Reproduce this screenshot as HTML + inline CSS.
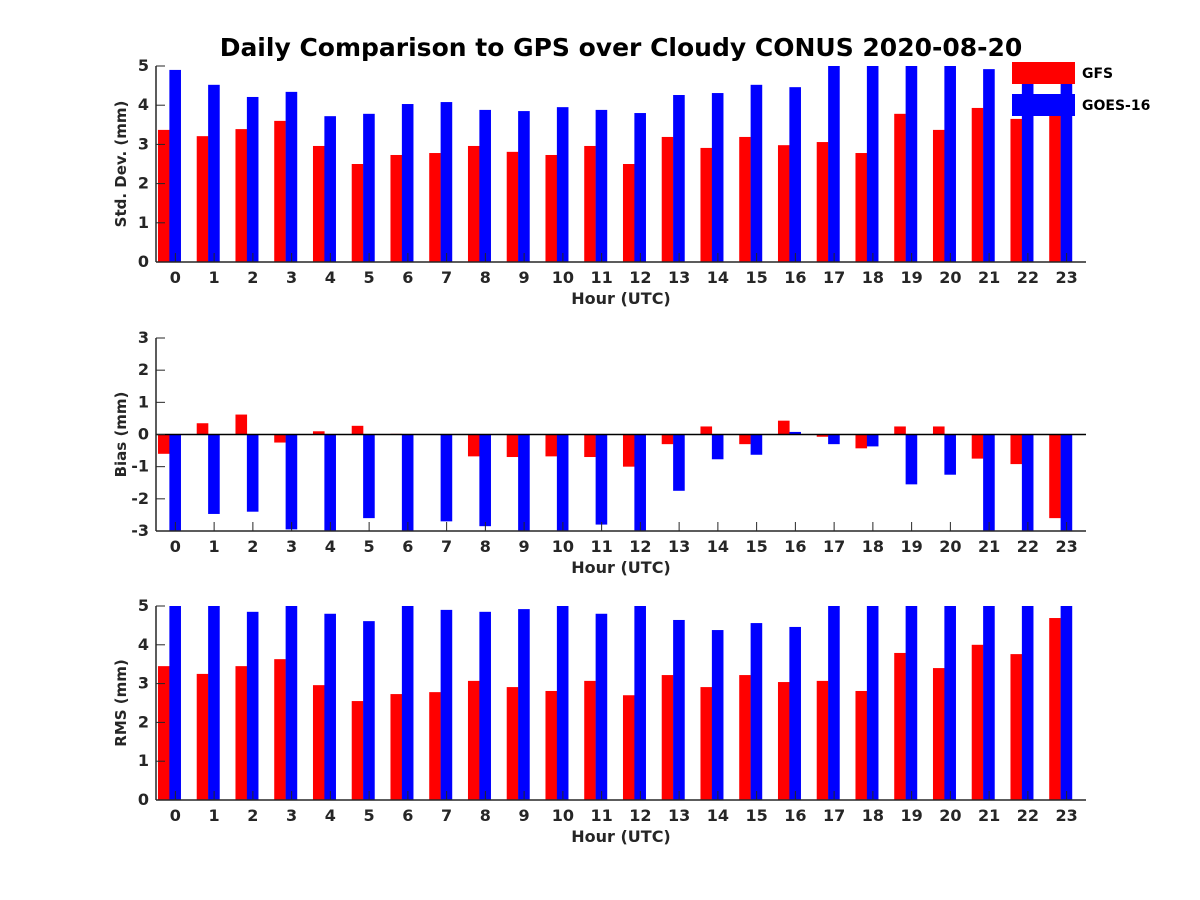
<!DOCTYPE html>
<html><head><meta charset="utf-8">
<style>
html,body{margin:0;padding:0;background:#fff;}
svg{display:block;font-family:"DejaVu Sans","Liberation Sans",sans-serif;font-weight:bold;}
</style></head>
<body>
<svg id="chart" width="1200" height="900" xmlns="http://www.w3.org/2000/svg">
<text x="621" y="56" text-anchor="middle" font-size="25" fill="#000">Daily Comparison to GPS over Cloudy CONUS 2020-08-20</text>
</svg>
<script>
const hours = [0,1,2,3,4,5,6,7,8,9,10,11,12,13,14,15,16,17,18,19,20,21,22,23];
const stdGFS = [3.37,3.21,3.39,3.6,2.96,2.5,2.73,2.78,2.96,2.81,2.73,2.96,2.5,3.19,2.91,3.19,2.98,3.06,2.78,3.78,3.37,3.93,3.65,3.8];
const stdGOES = [4.9,4.52,4.21,4.34,3.72,3.78,4.03,4.08,3.88,3.85,3.95,3.88,3.8,4.26,4.31,4.52,4.46,5.3,5.3,5.3,5.3,4.92,5.0,4.7];
const biasGFS = [-0.6,0.35,0.62,-0.25,0.1,0.27,0.02,0.0,-0.68,-0.7,-0.68,-0.7,-1.0,-0.3,0.25,-0.3,0.43,-0.07,-0.43,0.25,0.25,-0.75,-0.92,-2.6];
const biasGOES = [-3.5,-2.47,-2.4,-2.95,-3.5,-2.6,-3.5,-2.7,-2.85,-3.5,-3.5,-2.8,-3.5,-1.75,-0.77,-0.63,0.08,-0.3,-0.37,-1.55,-1.25,-3.5,-3.5,-3.5];
const rmsGFS = [3.45,3.25,3.45,3.63,2.96,2.55,2.73,2.78,3.07,2.91,2.81,3.07,2.7,3.22,2.91,3.22,3.04,3.07,2.81,3.79,3.4,4.0,3.76,4.69];
const rmsGOES = [5.3,5.3,4.85,5.3,4.8,4.61,5.3,4.9,4.85,4.92,5.3,4.8,5.3,4.64,4.38,4.56,4.46,5.3,5.3,5.3,5.3,5.3,5.3,5.3];
const stdTicks = [0,1,2,3,4,5];
const biasTicks = [-3,-2,-1,0,1,2,3];
const rmsTicks = [0,1,2,3,4,5];

const NS="http://www.w3.org/2000/svg";
const svg=document.getElementById('chart');
function mk(tag,attrs,parent){const e=document.createElementNS(NS,tag);for(const k in attrs)e.setAttribute(k,attrs[k]);(parent||svg).appendChild(e);return e;}
const X0=156,X1=1086;
function xs(h){return X0+(h+0.5)*(X1-X0)/24;}

function panel(name,top,bot,ymin,ymax,ticks,gfs,goes,ylabel,zeroLine){
  const g=mk('g',{});
  
  
  const ys=v=>bot-(v-ymin)*(bot-top)/(ymax-ymin);
  const cid='clip-'+name;
  const cp=mk('clipPath',{id:cid},g);mk('rect',{x:X0,y:top,width:X1-X0,height:bot-top},cp);
  const bars=mk('g',{'clip-path':'url(#'+cid+')'},g);
  const base=ys(Math.max(ymin,0));
  hours.forEach((h,i)=>{
    const c=xs(h);
    [[gfs[i],'#ff0000',-17.4,'gfs'],[goes[i],'#0000ff',-6,'goes16']].forEach(([v,col,off,s])=>{
      const y=ys(v);
      const r=mk('rect',{x:c+off,y:Math.min(y,base),width:11.6,height:Math.abs(y-base),fill:col},bars);
      
      
    });
  });
  if(zeroLine){mk('line',{x1:X0,x2:X1,y1:ys(0),y2:ys(0),stroke:'#000','stroke-width':1.5},g);}
  mk('line',{x1:X0,x2:X0,y1:top,y2:bot,stroke:'#262626','stroke-width':1.5},g);
  mk('line',{x1:X0,x2:X1,y1:bot,y2:bot,stroke:'#262626','stroke-width':1.5},g);
  ticks.forEach(t=>{
    const y=ys(t);
    mk('line',{x1:X0,x2:X0+9,y1:y,y2:y,stroke:'#262626','stroke-width':1},g);
    const tx=mk('text',{x:X0-7,y:y+5,'text-anchor':'end','font-size':16,fill:'#262626'},g);
    tx.textContent=t;
    
    
  });
  hours.forEach(h=>{
    const x=xs(h);
    mk('line',{x1:x,x2:x,y1:bot,y2:bot-9,stroke:'#262626','stroke-width':1},g);
    const tx=mk('text',{x:x,y:bot+21,'text-anchor':'middle','font-size':16,fill:'#262626'},g);
    tx.textContent=h;
    
    
  });
  const xl=mk('text',{x:(X0+X1)/2,y:bot+42,'text-anchor':'middle','font-size':16,fill:'#262626'},g);
  xl.textContent='Hour (UTC)';
  
  
  const cy=(top+bot)/2;
  const yl=mk('text',{x:0,y:0,transform:'translate('+(X0-30)+','+cy+') rotate(-90)','text-anchor':'middle','font-size':15,fill:'#262626'},g);
  yl.textContent=ylabel;
  
  
}
panel('std',66,262,0,5,stdTicks,stdGFS,stdGOES,'Std. Dev. (mm)',false);
panel('bias',338,531,-3,3,biasTicks,biasGFS,biasGOES,'Bias (mm)',true);
panel('rms',606,800,0,5,rmsTicks,rmsGFS,rmsGOES,'RMS (mm)',false);

const lg=mk('g',{});


[['GFS','#ff0000',62],['GOES-16','#0000ff',94]].forEach(([lab,col,y])=>{
  const r=mk('rect',{x:1012,y:y,width:63,height:22,fill:col},lg);
  
  
  const t=mk('text',{x:1082,y:y+16,'font-size':14,fill:'#000'},lg);
  t.textContent=lab;
  
  
});
</script>
</body></html>
